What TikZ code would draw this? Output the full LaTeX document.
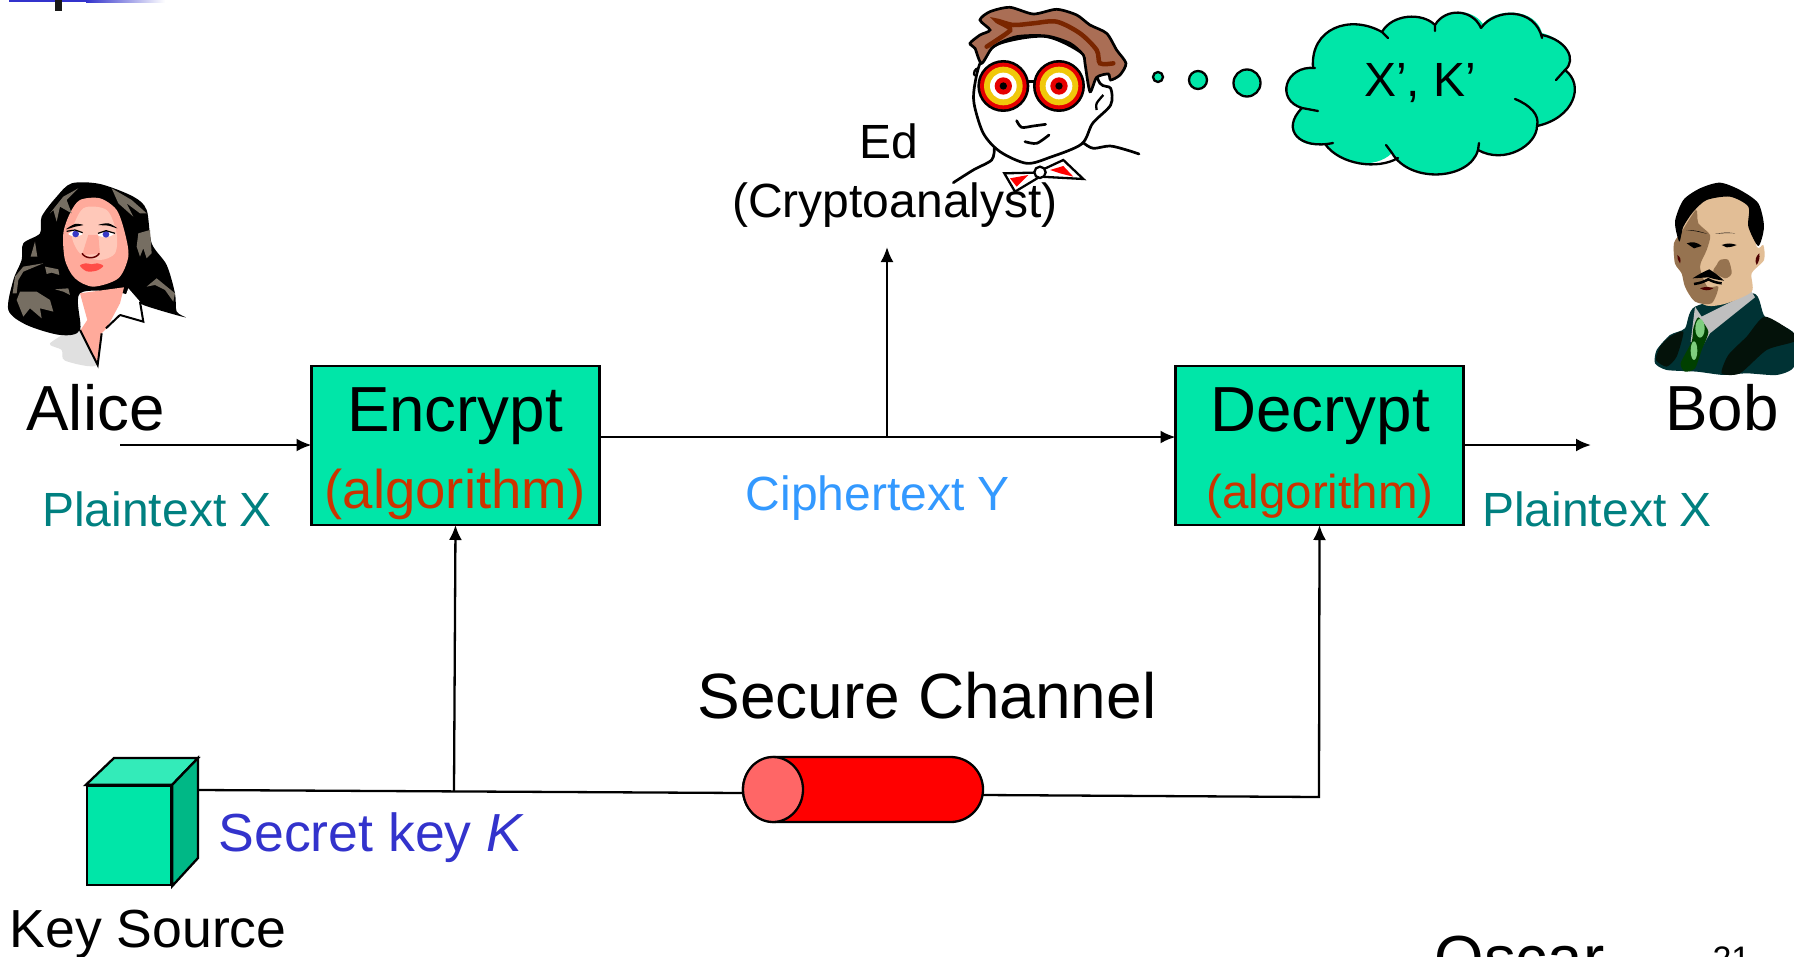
\documentclass[tikz,border=0pt]{standalone}
\usepackage{fontspec}
\setmainfont{Liberation Sans}
\usetikzlibrary{arrows.meta, positioning, shapes.geometric}

\definecolor{seagreen}{RGB}{0,230,168}
\definecolor{seagreenlt}{RGB}{51,235,185}
\definecolor{seagreendk}{RGB}{0,184,134}
\definecolor{plainteal}{RGB}{0,128,128}
\definecolor{cipherblue}{RGB}{51,153,255}
\definecolor{keyblue}{RGB}{51,51,204}
\definecolor{algored}{RGB}{204,51,0}
\definecolor{edhair}{RGB}{170,110,85}
\definecolor{edstrand}{RGB}{122,38,0}
\definecolor{edyellow}{RGB}{240,200,10}
\definecolor{skinpink}{RGB}{255,170,155}
\definecolor{skinpale}{RGB}{255,200,185}
\definecolor{hairgrey}{RGB}{118,110,98}
\definecolor{bobskin}{RGB}{226,190,150}
\definecolor{bobshade}{RGB}{150,115,80}
\definecolor{bobsuit}{RGB}{0,50,52}
\definecolor{bobdark}{RGB}{4,18,10}

\tikzset{
	box/.style={draw, line width=2.3pt, fill=seagreen, minimum width=288pt, minimum height=159pt, inner sep=0pt, outer sep=0pt},
	huge/.style={anchor=base, font=\fontsize{63.7}{70}\selectfont},
	big/.style={anchor=base, font=\fontsize{53.6}{60}\selectfont},
	mid/.style={anchor=base, font=\fontsize{48}{56}\selectfont},
	bubble/.style={circle, draw, line width=2.3pt, fill=seagreen, inner sep=0pt},
	wire/.style={line width=2.3pt}
}

\begin{document}
\begin{tikzpicture}[x=1pt,y=-1pt,>={Latex[length=15pt,width=13pt]}]
	\clip (0,0) rectangle (1794,956);
	\fill[white] (0,0) rectangle (1794,956);

	% what is left of the title bar
	\fill[keyblue] (9,0) rectangle (86,1.5);
	\shade[left color=keyblue, right color=white] (86,0) rectangle (165,2);
	\fill[black!90] (55,0) rectangle (62,11);

	% Alice
	\begin{scope}[shift={(0,0)},x=0.3333pt,y=-0.3333pt]
		\fill[black!12] plot[smooth cycle] coordinates {(150,1030) (240,990) (290,1095) (195,1082) (185,1050)};
		\fill[black] plot[smooth cycle, tension=0.5] coordinates {(215,550) (300,552) (400,590) (440,630) (455,730) (500,795) (525,880) (530,935) (555,952) (430,915) (370,880) (240,880) (240,990) (180,1005) (80,975) (25,930) (40,840) (65,780) (70,730) (120,700) (125,650) (170,590)};
		\fill[skinpink] (240,880) -- (372,862) -- (360,910) -- (320,985) -- (305,1000) -- (293,1095) -- (242,990) -- (262,960) -- cycle;
		\fill[white] (385,865) -- (420,905) -- (430,962) -- (360,942) -- (372,900) -- cycle;
		\draw[line width=2pt] (420,905) -- (430,965) -- (360,945) (318,985) -- (360,945) (240,990) -- (293,1095) -- (305,1000);
		\fill[skinpink] plot[smooth cycle] coordinates {(240,600) (300,595) (350,630) (375,700) (385,770) (355,835) (280,860) (225,835) (195,780) (190,700) (210,640)};
		\fill[skinpale] plot[smooth cycle] coordinates {(250,625) (320,630) (350,700) (345,760) (300,780) (240,760) (215,700)};
		\fill[skinpink] (265,705) -- (295,705) -- (300,762) -- (246,765) -- cycle;
		\fill[black] plot[smooth cycle] coordinates {(198,688) (225,672) (250,675) (226,680)};
		\fill[black] plot[smooth cycle] coordinates {(295,675) (325,670) (352,685) (325,677)};
		\fill[white] plot[smooth cycle] coordinates {(205,702) (225,692) (248,702) (225,710)};
		\fill[white] plot[smooth cycle] coordinates {(293,705) (318,695) (342,702) (318,712)};
		\fill[blue!55!gray] (227,702) circle[radius=10] (318,703) circle[radius=10];
		\draw[line width=1.2pt] (200,694) -- (225,690) -- (248,698) (294,700) -- (318,692) -- (345,700);
		\draw[line width=1.5pt, red!40!black] (246,760) to[out=-60,in=-120] (298,760);
		\fill[red!55!skinpink] plot[smooth cycle] coordinates {(240,797) (258,790) (275,793) (292,790) (310,798) (290,812) (260,814)};
		% lighter locks of hair
		\fill[hairgrey] (150,640) -- (190,590) -- (235,565) -- (200,600) -- (215,640) -- (180,620) -- (170,665) -- (160,630) -- cycle;
		\fill[hairgrey] (335,565) -- (395,600) -- (440,640) -- (420,640) -- (380,610) -- (400,650) -- (355,610) -- cycle;
		\fill[hairgrey] (415,700) -- (450,690) -- (455,760) -- (440,775) -- (430,745) -- (420,770) -- (410,740) -- cycle;
		\fill[hairgrey] (440,860) -- (470,835) -- (525,880) -- (520,905) -- (495,870) -- (465,855) -- cycle;
		\fill[hairgrey] (38,880) -- (45,830) -- (70,800) -- (130,790) -- (70,815) -- (55,840) -- (50,880) -- cycle;
		\fill[hairgrey] (50,900) -- (60,875) -- (110,875) -- (150,900) -- (160,935) -- (120,925) -- (125,955) -- (90,925) -- (70,950) -- cycle;
		\fill[hairgrey] (135,800) -- (175,808) -- (178,825) -- (155,818) -- (140,822) -- cycle;
		\fill[hairgrey] (165,868) -- (205,865) -- (210,885) -- (190,875) -- cycle;
		\fill[hairgrey] (92,770) -- (105,725) -- (112,770) -- cycle;
	\end{scope}

	% Ed
	\begin{scope}[shift={(900,0)},x=0.3333pt,y=-0.3333pt]
		\draw[line width=2.7pt, fill=white] plot[smooth cycle] coordinates {(245,180) (225,250) (222,310) (250,400) (300,455) (380,490) (450,472) (545,432) (578,370) (632,315) (632,265) (600,250) (560,170) (440,110) (300,130)};
		\draw[line width=2.3pt] (235,205) to[bend right=70] (225,228);
		\draw[line width=2.7pt, fill=edhair] plot[smooth cycle, tension=0.45] coordinates {(240,60) (270,35) (330,22) (400,42) (470,28) (530,45) (570,75) (620,100) (650,150) (678,190) (660,225) (632,240) (625,222) (590,232) (570,275) (555,190) (550,165) (510,130) (440,108) (350,110) (280,140) (245,190) (225,145) (210,130) (240,105) (270,90)};
		\draw[edstrand, line width=4.5pt, line cap=round] plot[smooth] coordinates {(260,140) (320,100) (330,85) (290,62) (340,75) (400,70) (470,65) (540,100) (590,150) (600,190) (640,190)};
		\draw[line width=2.3pt] plot[smooth] coordinates {(610,285) (590,310) (590,330)};
		\draw[line width=2.7pt] (385,245) -- (405,245);
		\foreach \cx in {310,477} {
			\fill[black] (\cx,258) circle[radius=78];
			\fill[red!90!black] (\cx,258) circle[radius=70];
			\fill[edyellow] (\cx,258) circle[radius=58];
			\fill[white] (\cx,258) circle[radius=40];
			\fill[red!90!black] (\cx,258) circle[radius=26];
			\fill[black] (\cx,258) circle[radius=11];
		}
		\draw[line width=2.7pt, line cap=round] plot[smooth] coordinates {(350,362) (365,382) (400,378) (437,373)};
		\draw[line width=2.7pt, line cap=round] plot[smooth] coordinates {(375,425) (410,430) (447,405)};
		\draw[line width=2.7pt, line cap=round] plot[smooth] coordinates {(283,445) (275,480) (220,510) (160,548)};
		\draw[line width=2.7pt, line cap=round] plot[smooth] coordinates {(552,430) (580,445) (630,438) (680,450) (717,462)};
		\draw[line width=2.3pt, fill=white] (400,518) -- (313,520) -- (345,575) -- (420,530) -- (550,537) -- (490,480) -- (430,508) -- cycle;
		\fill[red] (330,535) -- (385,525) -- (350,560) -- cycle (450,510) -- (490,498) -- (520,530) -- (480,520) -- cycle;
		\draw[line width=2.3pt, fill=white] (420,517) circle[radius=17];
	\end{scope}

	% Bob
	\begin{scope}[shift={(1620,160)},x=0.3333pt,y=-0.3333pt]
		\fill[bobsuit] plot[smooth cycle, tension=0.4] coordinates {(225,440) (400,400) (435,470) (522,520) (522,620) (470,645) (380,640) (310,645) (230,635) (140,630) (105,610) (110,570) (150,525) (195,505)};
		\fill[bobdark] plot[smooth cycle, tension=0.4] coordinates {(435,470) (522,520) (522,545) (440,570) (360,640) (305,640) (325,585) (380,530)};
		\fill[bobdark] plot[smooth cycle, tension=0.4] coordinates {(150,530) (190,515) (170,590) (140,620) (108,600) (120,560)};
		\fill[black!25] (225,440) -- (245,470) -- (395,395) -- (405,412) -- (270,520) -- (240,572) -- (212,545) -- cycle;
		\fill[green!25!black] plot[smooth cycle, tension=0.4] coordinates {(235,472) (265,515) (245,570) (225,625) (195,635) (182,610) (215,545) (220,505)};
		\fill[green!45!gray!70!white] (240,505) ellipse[x radius=14, y radius=28];
		\fill[green!45!gray!70!white] (222,572) ellipse[x radius=10, y radius=28];
		\fill[bobskin] plot[smooth cycle, tension=0.45] coordinates {(220,130) (300,100) (385,130) (410,260) (430,255) (432,300) (395,340) (395,395) (320,430) (260,437) (205,400) (185,340) (165,310) (162,250) (180,220)};
		\fill[bobshade] plot[smooth cycle, tension=0.45] coordinates {(228,150) (235,190) (270,225) (260,270) (240,320) (262,380) (295,380) (275,430) (225,425) (195,380) (185,340) (165,310) (162,250) (185,215)};
		\fill[bobshade] plot[smooth cycle, tension=0.45] coordinates {(300,300) (325,300) (335,340) (315,355) (280,335) (290,315)};
		\fill[black] plot[smooth cycle, tension=0.45] coordinates {(165,185) (190,120) (240,85) (300,68) (360,90) (415,130) (432,200) (415,258) (385,200) (385,140) (330,110) (260,120) (220,155) (190,200) (178,245)};
		\fill[black] (198,210) to[bend left=10] (262,222) to[bend right=5] cycle (285,222) to[bend left=5] (345,220) to[bend right=10] cycle;
		\fill[black] (200,250) to[bend left=30] (245,258) to[bend left=5] (222,265) -- cycle (305,255) to[bend left=20] (350,255) to[bend left=10] (320,262) -- cycle;
		\fill[black] (218,355) to[bend left=5] (268,328) to[bend left=5] (312,362) to[bend left=5] (265,352) -- cycle;
		\draw[line width=2.5pt] (222,372) to[bend right=10] (265,358) to[bend right=10] (305,370);
		\fill[red!30!black] (240,385) to[bend left=20] (280,385) to[bend left=30] cycle;
		\fill[red!30!black] (172,285) to[bend left=40] (180,310) to[bend left=20] cycle (418,280) to[bend right=40] (410,315) to[bend right=20] cycle;
	\end{scope}

	% cloud
	\path[fill=seagreen] (1313,68) .. controls (1310,28) and (1350,14) .. (1382,32)
		.. controls (1392,14) and (1422,12) .. (1435,25)
		.. controls (1445,8) and (1472,8) .. (1483,24)
		.. controls (1495,8) and (1535,7) .. (1542,33)
		.. controls (1567,40) and (1577,60) .. (1565,70)
		.. controls (1585,85) and (1574,118) .. (1537,126)
		.. controls (1537,145) and (1505,165) .. (1478,150)
		.. controls (1470,180) and (1410,184) .. (1392,153)
		.. controls (1375,170) and (1340,165) .. (1325,144)
		.. controls (1300,150) and (1280,130) .. (1302,108)
		.. controls (1275,100) and (1285,65) .. (1313,68) -- cycle;
	\draw[line width=2.3pt, line cap=round] (1313,68) .. controls (1310,28) and (1350,14) .. (1382,32) -- (1388,38)
		(1382,32) .. controls (1392,14) and (1422,12) .. (1435,25) -- (1435,31)
		(1435,25) .. controls (1445,8) and (1472,8) .. (1481,28)
		(1481,28) .. controls (1495,8) and (1535,7) .. (1542,38)
		(1542,35) .. controls (1567,40) and (1577,60) .. (1565,70) -- (1556,80)
		(1565,70) .. controls (1585,85) and (1574,118) .. (1537,126)
		(1515,99) .. controls (1530,105) and (1540,115) .. (1537,126) .. controls (1537,145) and (1505,165) .. (1478,150) -- (1479,143)
		(1478,150) .. controls (1470,180) and (1410,184) .. (1392,153) -- (1386,145)
		(1398,158) .. controls (1378,170) and (1340,165) .. (1325,144)
		(1333,143) .. controls (1300,150) and (1280,130) .. (1302,108) -- (1318,111)
		(1302,108) .. controls (1275,100) and (1285,65) .. (1315,68);
	\node (thought1) [bubble, minimum size=10pt] at (1158,77) {};
	\node (thought2) [bubble, minimum size=18pt] at (1198,80) {};
	\node (thought3) [bubble, minimum size=27pt] at (1247,83) {};
	\node (guess) [anchor=base, font=\fontsize{48}{56}\selectfont] at (1420,96) {X’, K’};

	% boxes and their labels
	\node (encrypt) [box] at (455.5,445.5) {};
	\node (decrypt) [box] at (1319.5,445.5) {};
	\node (alice) [huge] at (95.5,430) {Alice};
	\node (bob) [huge] at (1722,430) {Bob};
	\node (enctext) [huge] at (455,431) {Encrypt};
	\node (dectext) [huge] at (1320,431) {Decrypt};
	\node (encalgo) [anchor=base, text=algored, font=\fontsize{54.5}{60}\selectfont] at (455,508) {(algorithm)};
	\node (decalgo) [anchor=base, text=algored, font=\fontsize{47.5}{54}\selectfont] at (1320,508) {(algorithm)};
	\node (plainl) [mid, text=plainteal] at (157,526) {Plaintext X};
	\node (plainr) [mid, text=plainteal] at (1597,526) {Plaintext X};
	\node (cipher) [mid, text=cipherblue] at (878,510) {Ciphertext Y};
	\node (edname) [mid] at (889,158) {Ed};
	\node (edrole) [mid] at (895,217) {(Cryptoanalyst)};
	\node (channeltext) [huge, font=\fontsize{64}{70}\selectfont] at (927,718) {Secure Channel};
	\node (keytext) [big, text=keyblue] at (371.5,851) {Secret key \textit{K}};
	\node (sourcetext) [big] at (148,947) {Key Source};
	\node (oscar) [huge, anchor=base west] at (1431,980) {Oscar};
	\node (pagenum) [anchor=base west, font=\fontsize{34}{40}\selectfont] at (1709,970) {21};

	% key source
	\node (cubefront) [draw, line width=2.3pt, fill=seagreen, minimum width=84pt, minimum height=99pt, inner sep=0pt] at (129,835.5) {};
	\draw[line width=2.3pt, fill=seagreenlt] (cubefront.north west) -- (114,758) -- (198,758) -- (cubefront.north east) -- cycle;
	\draw[line width=2.3pt, fill=seagreendk] (cubefront.north east) -- (198,758) -- (198,858) -- (cubefront.south east) -- cycle;
	\coordinate (cubeport) at (199,790);

	% secure channel
	\node (channel) [draw, line width=2.3pt, fill=red, rounded corners=32.4pt, minimum width=240pt, minimum height=65pt, inner sep=0pt] at (863,789.5) {};
	\node (channelcap) [ellipse, draw, line width=2.3pt, fill=red!60!white, minimum width=60pt, minimum height=65pt, inner sep=0pt] at (773,789.5) {};

	% connectors
	\coordinate (alicestart) at (120,445);
	\coordinate (bobend) at (1591,445);
	\coordinate (mainy) at (887,437);
	\coordinate (edend) at (887,247);
	\coordinate (keyjoin) at (454,791);
	\coordinate (channelout) at (983,795);
	\coordinate (channelin) at (743,793);
	\coordinate (keycorner) at (1319,797);

	\draw[wire, ->] (alicestart) -- (encrypt.west |- alicestart);
	\draw[wire, ->] (decrypt.east |- bobend) -- (bobend);
	\draw[wire, ->] (encrypt.east |- mainy) -- (decrypt.west |- mainy);
	\draw[wire, ->] (mainy) -- (edend);
	\draw[wire] (cubeport) -- (channelin);
	\draw[wire, ->] (keyjoin) -- (encrypt.south);
	\draw[wire, ->] (channelout) -- (keycorner) -- (decrypt.south);
\end{tikzpicture}
\end{document}
